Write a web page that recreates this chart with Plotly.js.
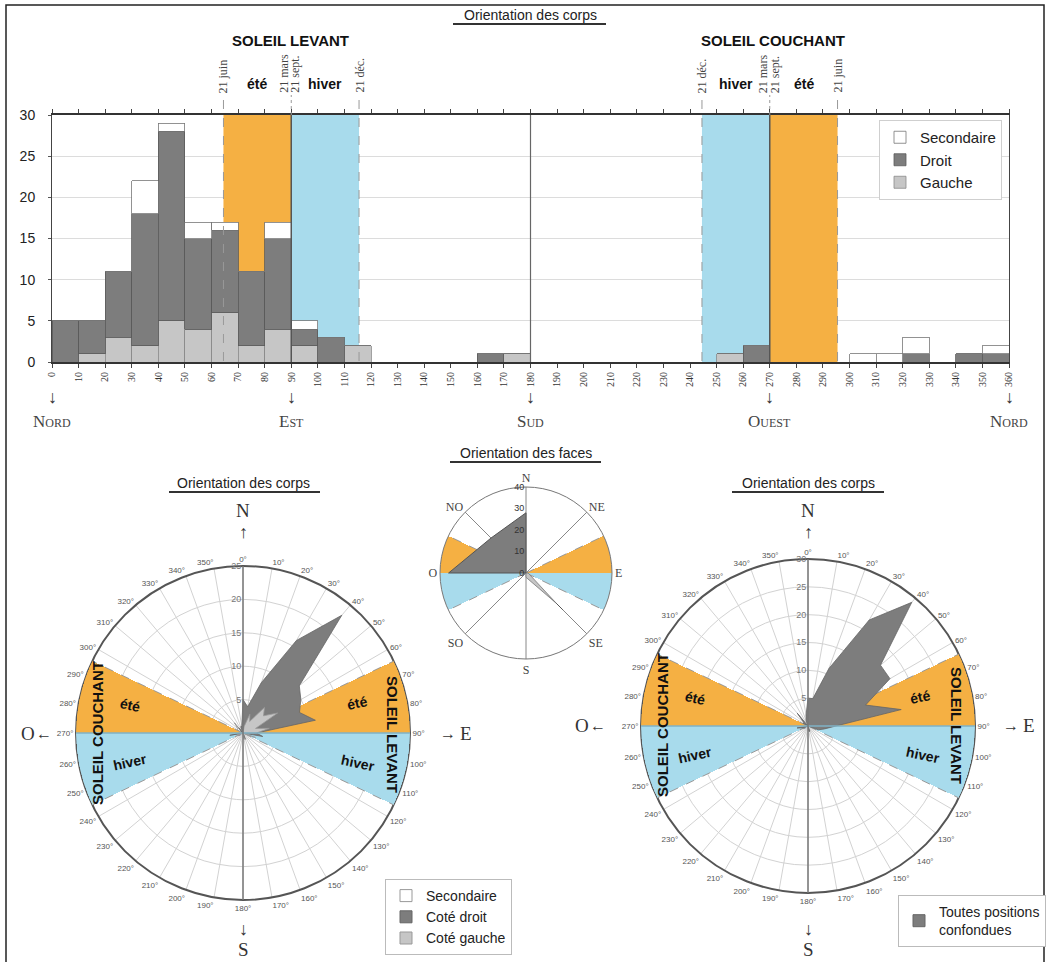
<!DOCTYPE html>
<html><head><meta charset="utf-8">
<script src="https://cdn.plot.ly/plotly-3.0.1.min.js"></script>
<style>body{margin:0;padding:0;background:#fff}#chart{width:1048px;height:962px}</style>
</head><body><div id="chart"></div>
<script>
const W = 1048, H = 962;

// ---- data: 10-degree bins (start angle) ----
const binStarts = [0,10,20,30,40,50,60,70,80,90,100,110,120,130,140,150,160,170,180,190,200,210,220,230,240,250,260,270,280,290,300,310,320,330,340,350];
const gauche     = [0,1,3,2,5,4,6,2,4,2,0,2, 0,0,0,0,0,1, 0,0,0,0,0,0,0,1,0,0,0,0, 0,0,0,0,0,0];
const droit      = [5,4,8,16,23,11,10,9,11,2,3,0, 0,0,0,0,1,0, 0,0,0,0,0,0,0,0,2,0,0,0, 0,0,1,0,1,1];
const secondaire = [0,0,0,4,1,2,1,0,2,1,0,0, 0,0,0,0,0,0, 0,0,0,0,0,0,0,0,0,0,0,0, 1,1,2,0,0,1];
const toutes     = [5,5,11,22,29,17,17,11,17,5,3,2, 0,0,0,0,1,1, 0,0,0,0,0,0,0,1,2,0,0,0, 1,1,3,0,1,2];

// faces
const faceLabels = ['N','NE','E','SE','S','SO','O','NO'];
const faceAngles = [0,45,90,135,180,225,270,315];
const facesDark  = [28,0,0,24,0,0,36,23];
const facesLight = [0,0,1,20,2,0,0,0];

// solar azimuths (degrees)
const summerRise = 64.5, equinoxRise = 90, winterRise = 115.5;
const winterSet = 244.5, equinoxSet = 270, summerSet = 295.5;

// tick labels of the histogram
const xTicks = binStarts.concat([360]);
const cardinalAngles = [0,90,180,270,360];
const cardinalNames = ['Nord','Est','Sud','Ouest','Nord'];

// ---- colours ----
const ORANGE = '#F5B043', BLUE = '#A8DBEC', DARK = '#7d7d7d', LIGHT = '#c6c6c6';

const px = x => x / W;
const py = y => 1 - y / H;

const binCenters = binStarts.map(b => b + 5);
const traces = [];

// ---- histogram ----
traces.push({type:'bar', x:binCenters, y:gauche, width:10, name:'Gauche', legend:'legend',
  marker:{color:LIGHT, line:{color:'#8a8a8a', width:0.8}}, hoverinfo:'skip'});
traces.push({type:'bar', x:binCenters, y:droit, width:10, name:'Droit', legend:'legend',
  marker:{color:DARK, line:{color:'#5a5a5a', width:0.8}}, hoverinfo:'skip'});
traces.push({type:'bar', x:binCenters, y:secondaire, width:10, name:'Secondaire', legend:'legend',
  marker:{color:'#ffffff', line:{color:'#777', width:0.8}}, hoverinfo:'skip'});

// ---- polar helpers ----
function close(a){ return a.concat([a[0]]); }
function seasonTraces(sub, R){
  const out = [];
  const sectors = [
    [summerRise, equinoxRise, ORANGE], [equinoxRise, winterRise, BLUE],
    [winterSet, equinoxSet, BLUE], [equinoxSet, summerSet, ORANGE]];
  sectors.forEach(s => {
    out.push({type:'barpolar', subplot:sub, r:[R], theta:[(s[0]+s[1])/2], width:[s[1]-s[0]],
      marker:{color:s[2], line:{width:0}}, showlegend:false, hoverinfo:'skip'});
  });
  [summerRise, winterRise, winterSet, summerSet].forEach(a => {
    out.push({type:'scatterpolar', subplot:sub, mode:'lines', r:[0,R], theta:[a,a],
      line:{color:'#999', width:1, dash:'dash'}, showlegend:false, hoverinfo:'skip'});
  });
  return out;
}
function axisLines(sub, R){
  return [
    {type:'scatterpolar', subplot:sub, mode:'lines', r:[R,0,R], theta:[equinoxSet,0,equinoxRise],
     line:{color:'#7fb2c6', width:1.5}, showlegend:false, hoverinfo:'skip'},
    {type:'scatterpolar', subplot:sub, mode:'lines', r:[R,0,R], theta:[0,0,180],
     line:{color:'#777', width:1.5}, showlegend:false, hoverinfo:'skip'}
  ];
}
// legend keys: zero-length bars at the centre, only the legend square shows
function legendKey(sub, name, color, lineColor, leg){
  return {type:'barpolar', subplot:sub, r:[0], theta:[0], width:[1], name:name, legend:leg,
    marker:{color:color, line:{color:lineColor, width:1}}, hoverinfo:'skip'};
}

// left polar
const thetaClosed = close(binStarts);
traces.push(...seasonTraces('polar', 25));
traces.push({type:'scatterpolar', subplot:'polar', mode:'lines', fill:'toself', r:close(secondaire), theta:thetaClosed,
  fillcolor:'#ffffff', line:{color:'#888', width:0.8}, showlegend:false, hoverinfo:'skip'});
traces.push({type:'scatterpolar', subplot:'polar', mode:'lines', fill:'toself', r:close(droit), theta:thetaClosed,
  fillcolor:DARK, line:{color:'#666', width:0.8}, showlegend:false, hoverinfo:'skip'});
traces.push({type:'scatterpolar', subplot:'polar', mode:'lines', fill:'toself', r:close(gauche), theta:thetaClosed,
  fillcolor:LIGHT, line:{color:'#999', width:0.8}, showlegend:false, hoverinfo:'skip'});
traces.push(...axisLines('polar', 25));
traces.push(legendKey('polar', 'Secondaire', '#ffffff', '#999', 'legend2'));
traces.push(legendKey('polar', 'Coté droit', DARK, '#666', 'legend2'));
traces.push(legendKey('polar', 'Coté gauche', LIGHT, '#999', 'legend2'));

// middle polar
traces.push(...seasonTraces('polar2', 40));
traces.push({type:'scatterpolar', subplot:'polar2', mode:'lines', fill:'toself', r:close(facesDark), theta:close(faceAngles),
  fillcolor:DARK, line:{color:'#555', width:1}, showlegend:false, hoverinfo:'skip'});
traces.push({type:'scatterpolar', subplot:'polar2', mode:'lines', fill:'toself', r:close(facesLight), theta:close(faceAngles),
  fillcolor:LIGHT, line:{color:'#777', width:0.8}, showlegend:false, hoverinfo:'skip'});

// right polar
traces.push(...seasonTraces('polar3', 30));
traces.push({type:'scatterpolar', subplot:'polar3', mode:'lines', fill:'toself', r:close(toutes), theta:thetaClosed,
  fillcolor:DARK, line:{color:'#666', width:0.8}, showlegend:false, hoverinfo:'skip'});
traces.push(...axisLines('polar3', 30));
traces.push(legendKey('polar3', 'Toutes positions<br>confondues', DARK, '#666', 'legend3'));

// ---- layout ----
function polarLayout(x0, x1, y0, y1, R, dtick){
  return {
    domain:{x:[px(x0), px(x1)], y:[py(y1), py(y0)]},
    bgcolor:'#ffffff',
    angularaxis:{rotation:90, direction:'clockwise', dtick:10, ticksuffix:'°', showline:true,
      linecolor:'#555', linewidth:2, gridcolor:'#d2d2d2', gridwidth:1, ticks:'',
      tickfont:{family:'Arial', size:8, color:'#555'}, layer:'below traces'},
    radialaxis:{range:[0,R], dtick:dtick, angle:90, tickangle:90, side:'counterclockwise', showline:false, ticks:'',
      gridcolor:'#d2d2d2', tickfont:{family:'Arial', size:9, color:'#777'}, layer:'below traces'}
  };
}
const polar = polarLayout(76, 410, 566, 900, 25, 5);
const polar3 = polarLayout(641, 975, 559, 893, 30, 5);
const polar2 = polarLayout(440, 612, 487, 659, 40, 10);
polar2.angularaxis = {rotation:90, direction:'clockwise', tickmode:'array', tickvals:faceAngles, ticktext:faceLabels,
  showline:true, linecolor:'#777', linewidth:1, gridcolor:'#888', gridwidth:1, ticks:'',
  tickfont:{family:'Liberation Serif', size:12, color:'#444'}, layer:'above traces'};
polar2.radialaxis.showgrid = false;
polar2.radialaxis.layer = 'above traces';
polar2.radialaxis.tickfont = {family:'Arial', size:9, color:'#333'};

const shapes = [
  // frame
  {type:'rect', xref:'paper', yref:'paper', x0:px(6), x1:px(1044), y0:py(966), y1:py(5), line:{color:'#222', width:1.5}},
  // season bands in histogram
  {type:'rect', xref:'x', yref:'y', x0:summerRise, x1:equinoxRise, y0:0, y1:30, fillcolor:ORANGE, line:{width:0}, layer:'between'},
  {type:'rect', xref:'x', yref:'y', x0:equinoxRise, x1:winterRise, y0:0, y1:30, fillcolor:BLUE, line:{width:0}, layer:'between'},
  {type:'rect', xref:'x', yref:'y', x0:winterSet, x1:equinoxSet, y0:0, y1:30, fillcolor:BLUE, line:{width:0}, layer:'between'},
  {type:'rect', xref:'x', yref:'y', x0:equinoxSet, x1:summerSet, y0:0, y1:30, fillcolor:ORANGE, line:{width:0}, layer:'between'},
  // underlines
  {type:'line', xref:'paper', yref:'paper', x0:px(453), x1:px(606), y0:py(24), y1:py(24), line:{color:'#333', width:2}},
  {type:'line', xref:'paper', yref:'paper', x0:px(169), x1:px(320), y0:py(492), y1:py(492), line:{color:'#333', width:2}},
  {type:'line', xref:'paper', yref:'paper', x0:px(450), x1:px(601), y0:py(462), y1:py(462), line:{color:'#333', width:2}},
  {type:'line', xref:'paper', yref:'paper', x0:px(732), x1:px(884), y0:py(492), y1:py(492), line:{color:'#333', width:2}}
];
// dashed season edges (extend above plot)
[summerRise, winterRise, winterSet, summerSet].forEach(a => {
  shapes.push({type:'line', xref:'x', yref:'paper', x0:a, x1:a, y0:py(361), y1:py(95), line:{color:'#999', width:1, dash:'dash'}, layer:'above'});
});
[equinoxRise, equinoxSet].forEach(a => {
  shapes.push({type:'line', xref:'x', yref:'paper', x0:a, x1:a, y0:py(115), y1:py(95), line:{color:'#999', width:1, dash:'dot'}});
  shapes.push({type:'line', xref:'x', yref:'y', x0:a, x1:a, y0:0, y1:30, line:{color:'#555', width:1.5}, layer:'above'});
});
shapes.push({type:'line', xref:'x', yref:'y', x0:180, x1:180, y0:0, y1:30, line:{color:'#666', width:1.2}, layer:'above'});

const serif = 'Liberation Serif';
const ann = [];
function A(o){ ann.push(Object.assign({showarrow:false, xref:'paper', yref:'paper', xanchor:'center', yanchor:'middle'}, o)); }
// top header
A({x:px(530), y:py(15), text:'Orientation des corps', font:{family:'Arial', size:14, color:'#222'}});
A({x:px(290), y:py(40), text:'<b>SOLEIL LEVANT</b>', font:{family:'Arial', size:15, color:'#111'}});
A({x:px(773), y:py(40), text:'<b>SOLEIL COUCHANT</b>', font:{family:'Arial', size:15, color:'#111'}});
const dateFont = {family:serif, size:12, color:'#444'};
[[summerRise,'21 juin',0],[equinoxRise,'21 mars',-8],[equinoxRise,'21 sept.',3],[winterRise,'21 déc.',0],
 [winterSet,'21 déc.',0],[equinoxSet,'21 mars',-7],[equinoxSet,'21 sept.',5],[summerSet,'21 juin',0]].forEach(d => {
  A({xref:'x', x:d[0], xshift:d[2], y:py(95), yanchor:'bottom', text:d[1], textangle:-90, font:dateFont});
});
const seasonFont = {family:'Arial', size:14, color:'#111'};
A({xref:'x', x:(summerRise+equinoxRise)/2, y:py(84), text:'<b>été</b>', font:seasonFont});
A({xref:'x', x:(equinoxRise+winterRise)/2, y:py(84), text:'<b>hiver</b>', font:seasonFont});
A({xref:'x', x:(winterSet+equinoxSet)/2, y:py(84), text:'<b>hiver</b>', font:seasonFont});
A({xref:'x', x:(equinoxSet+summerSet)/2, y:py(84), text:'<b>été</b>', font:seasonFont});
cardinalAngles.forEach((a,i) => {
  A({xref:'x', x:a, y:py(397), text:'↓', font:{family:serif, size:18, color:'#333'}});
  A({xref:'x', x:a, y:py(421), text:cardinalNames[i], font:{family:serif, size:17, color:'#444', variant:'small-caps'}});
});

// polar decorations
function polarDeco(cx, cy, ty, ox, ex){
  A({x:px(cx), y:py(ty), text:'Orientation des corps', font:{family:'Arial', size:14, color:'#222'}});
  A({x:px(cx), y:py(511), text:'N', font:{family:serif, size:19, color:'#333'}});
  A({x:px(cx), y:py(532), text:'↑', font:{family:serif, size:18, color:'#333'}});
  A({x:px(cx), y:py(929), text:'↓', font:{family:serif, size:18, color:'#333'}});
  A({x:px(cx), y:py(949), text:'S', font:{family:serif, size:19, color:'#333'}});
  A({x:px(ox), y:py(cy), text:'O', font:{family:serif, size:19, color:'#333'}});
  A({x:px(ox+16), y:py(cy), text:'←', font:{family:serif, size:16, color:'#333'}});
  A({x:px(ex-18), y:py(cy), text:'→', font:{family:serif, size:16, color:'#333'}});
  A({x:px(ex), y:py(cy), text:'E', font:{family:serif, size:19, color:'#333'}});
}
polarDeco(243, 733, 483, 28, 466);
polarDeco(808, 725, 483, 582, 1029);
const bigFont = {family:'Arial', size:15, color:'#111'};
// left polar texts
A({x:px(393), y:py(734), text:'<b>SOLEIL LEVANT</b>', textangle:90, font:bigFont});
A({x:px(97), y:py(733), text:'<b>SOLEIL COUCHANT</b>', textangle:-90, font:bigFont});
A({x:px(357), y:py(703), text:'<b>été</b>', textangle:-12, font:seasonFont});
A({x:px(358), y:py(763), text:'<b>hiver</b>', textangle:12, font:seasonFont});
A({x:px(130), y:py(705), text:'<b>été</b>', textangle:12, font:seasonFont});
A({x:px(130), y:py(762), text:'<b>hiver</b>', textangle:-12, font:seasonFont});
// right polar texts
A({x:px(957), y:py(725), text:'<b>SOLEIL LEVANT</b>', textangle:90, font:bigFont});
A({x:px(662), y:py(725), text:'<b>SOLEIL COUCHANT</b>', textangle:-90, font:bigFont});
A({x:px(920), y:py(697), text:'<b>été</b>', textangle:-12, font:seasonFont});
A({x:px(923), y:py(755), text:'<b>hiver</b>', textangle:12, font:seasonFont});
A({x:px(695), y:py(698), text:'<b>été</b>', textangle:12, font:seasonFont});
A({x:px(695), y:py(755), text:'<b>hiver</b>', textangle:-12, font:seasonFont});
// middle title
A({x:px(526), y:py(453), text:'Orientation des faces', font:{family:'Arial', size:14, color:'#222'}});

const layout = {
  width:W, height:H, margin:{l:0, r:0, t:0, b:0},
  paper_bgcolor:'#ffffff', plot_bgcolor:'#ffffff',
  barmode:'stack', bargap:0, hovermode:false,
  xaxis:{domain:[px(52), px(1009)], range:[0,360], tickmode:'array', tickvals:xTicks,
    tickangle:-90, tickfont:{family:serif, size:10, color:'#333'}, ticks:'outside', ticklen:4, tickcolor:'#444',
    showline:true, linecolor:'#333', linewidth:2, mirror:'ticks', showgrid:false, zeroline:false, fixedrange:true},
  yaxis:{domain:[py(362), py(115)], range:[0,30], dtick:5, tickfont:{family:'Arial', size:14, color:'#222'},
    ticks:'outside', ticklen:3, tickcolor:'#555', showline:true, linecolor:'#444', linewidth:1, mirror:true,
    gridcolor:'#dcdcdc', zeroline:false, ticklabelstandoff:10, fixedrange:true},
  polar:polar, polar2:polar2, polar3:polar3,
  legend:{x:px(879), y:py(120), xanchor:'left', yanchor:'top', traceorder:'reversed', bgcolor:'#fff',
    bordercolor:'#cfcfcf', borderwidth:1, font:{family:'Arial', size:15, color:'#222'}, tracegroupgap:0},
  legend2:{x:px(385), y:py(879), xanchor:'left', yanchor:'top', traceorder:'normal', bgcolor:'#fff',
    bordercolor:'#bbb', borderwidth:1, font:{family:'Arial', size:14, color:'#222'}},
  legend3:{x:px(898), y:py(895), xanchor:'left', yanchor:'top', bgcolor:'#fff',
    bordercolor:'#bbb', borderwidth:1, font:{family:'Arial', size:14, color:'#222'}},
  shapes:shapes, annotations:ann
};

Plotly.newPlot('chart', traces, layout, {displayModeBar:false, staticPlot:true});
</script></body></html>
